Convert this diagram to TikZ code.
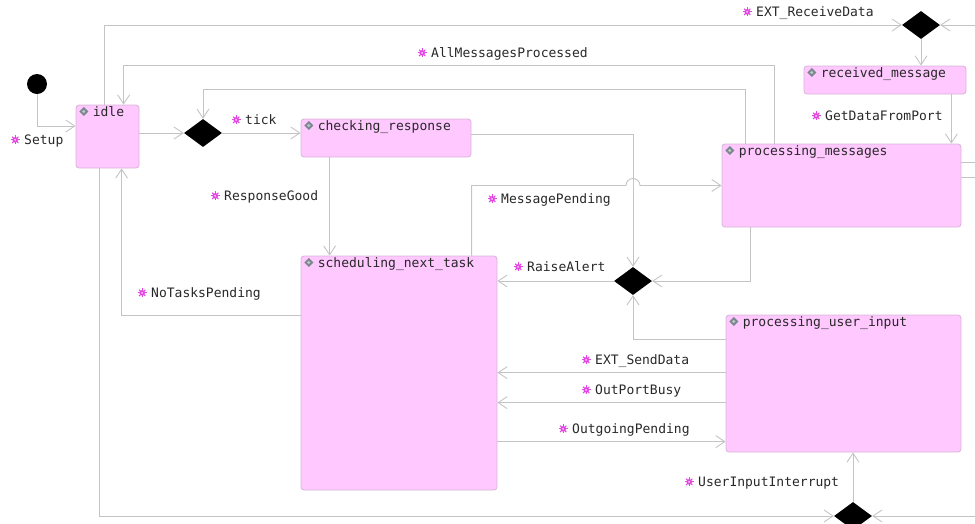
\documentclass[tikz,border=0pt]{standalone}
\usepackage{fontspec}
\newfontfamily\umlfont{DejaVu Sans Mono}
\usetikzlibrary{shapes.geometric, arrows.meta, positioning, calc}
\definecolor{statepink}{RGB}{255, 200, 255}
\definecolor{stateedge}{RGB}{214, 180, 214}
\definecolor{wiregray}{RGB}{196, 196, 196}
\definecolor{evmagenta}{RGB}{226, 70, 226}
\definecolor{icongray}{RGB}{120, 136, 140}
\definecolor{labelink}{RGB}{40, 40, 40}

% small icons in front of state names and transition labels
\newcommand{\evicon}{\tikz[baseline=-0.65ex]{\path[use as bounding box] (-4pt,-4pt) rectangle (4pt,4pt);
  \foreach \a in {0,45,...,315} \draw[evmagenta, line width=1pt] (\a:2pt) -- (\a:4.4pt);
  \fill[evmagenta] (0pt,0pt) circle (2.8pt);
  \fill[white!65!evmagenta] (0pt,0pt) circle (1.1pt);}}
\newcommand{\sticon}{\tikz[baseline=-0.65ex]{\path[use as bounding box] (-4pt,-4pt) rectangle (4pt,4pt);
  \fill[icongray] (0pt,4.5pt) -- (4.5pt,0pt) -- (0pt,-4.5pt) -- (-4.5pt,0pt) -- cycle;
  \fill[white!55!icongray] (0pt,1.6pt) -- (1.6pt,0pt) -- (0pt,-1.6pt) -- (-1.6pt,0pt) -- cycle;}}

\begin{document}
\begin{tikzpicture}[x=1pt, y=-1pt,
  state/.style={draw=stateedge, fill=statepink, rounded corners=3pt, inner sep=0pt, line width=0.8pt},
  stitle/.style={anchor=west, inner sep=0pt, text height=10pt, text depth=3pt, text=labelink, font=\umlfont\fontsize{13}{15}\selectfont},
  evlabel/.style={stitle},
  choice/.style={diamond, fill=black, inner sep=0pt, minimum width=38pt, minimum height=28pt},
  tr/.style={draw=wiregray, line width=0.9pt, -{Straight Barb[length=9pt, width=12pt]}},
  wire/.style={draw=wiregray, line width=0.9pt}]

\useasboundingbox (0,0) rectangle (975,523);

% states and pseudo states
\node[circle, fill=black, minimum size=20pt, inner sep=0pt] (init) at (37,84) {};
\node[state, minimum width=63pt, minimum height=63pt] (idle) at (107.5,136.5) {};
\node[choice] (d1) at (203,133) {};
\node[state, minimum width=170pt, minimum height=38pt] (chk) at (386,138) {};
\node[state, minimum width=196pt, minimum height=234pt] (sched) at (399,373) {};
\node[choice] (d2) at (633,281) {};
\node[choice] (dtop) at (921,25) {};
\node[state, minimum width=162pt, minimum height=28pt] (rcv) at (885,80) {};
\node[state, minimum width=239pt, minimum height=83pt] (pm) at (841.5,185.5) {};
\node[state, minimum width=235pt, minimum height=137pt] (pui) at (843.5,383.5) {};
\node[choice] (dbot) at (853,516) {};

\node[stitle] (idle-t) at ([xshift=4pt, yshift=-8pt]idle.north west) {\sticon\hspace{5pt}idle};
\node[stitle] (chk-t) at ([xshift=4pt, yshift=-8pt]chk.north west) {\sticon\hspace{5pt}checking\_response};
\node[stitle] (sched-t) at ([xshift=4pt, yshift=-8pt]sched.north west) {\sticon\hspace{5pt}scheduling\_next\_task};
\node[stitle] (rcv-t) at ([xshift=4pt, yshift=-8pt]rcv.north west) {\sticon\hspace{5pt}received\_message};
\node[stitle] (pm-t) at ([xshift=4pt, yshift=-8pt]pm.north west) {\sticon\hspace{5pt}processing\_messages};
\node[stitle] (pui-t) at ([xshift=4pt, yshift=-8pt]pui.north west) {\sticon\hspace{5pt}processing\_user\_input};

% helper points
\coordinate (recv-in) at (975,25);
\coordinate (intr-in) at (975,516);
\coordinate (gd) at ([xshift=-15pt]rcv.south east);
\coordinate (hop) at (d2.north |- pm.west);
\coordinate (sd) at ([yshift=-58pt]pui.north west);
\coordinate (ob) at ([yshift=-88pt]pui.north west);
\coordinate (og) at ([yshift=-127pt]pui.north west);
\coordinate (pm-o1) at ([yshift=-19pt]pm.north east);
\coordinate (pm-o2) at ([yshift=-34pt]pm.north east);

% transitions
\draw[tr] (init) |- ([yshift=10.5pt]idle.west);
\draw[tr] (idle.east |- d1.west) -- (d1.west);
\draw[tr] (d1.east) -- (chk.west |- d1.east);
\draw[tr] ([xshift=29pt]chk.south west) -- ([xshift=29pt]sched.north west);
\draw[tr] ([yshift=-60pt]sched.north west) -| ([xshift=46pt]idle.south west);
\draw[tr] ([xshift=29pt]idle.north west) |- (dtop.west);
\draw[tr] (recv-in) -- (dtop.east);
\draw[tr] (dtop.south) -- (dtop.south |- rcv.north);
\draw[tr] (gd) -- (gd |- pm.north);
\draw[tr] ([xshift=53pt]pm.north west) -- ++(0,-78) -| ([xshift=48pt]idle.north west);
\draw[tr] ([xshift=24pt]pm.north west) -- ++(0,-54) -| (d1.north);
\draw[tr] ([yshift=4pt]chk.east) -| (d2.north);
\draw[tr] ([xshift=171pt]sched.north west) |- ([xshift=-7pt]hop) arc[start angle=180, end angle=0, radius=7pt] -- (pm.west);
\draw[tr] (d2.west) -- (d2.west -| sched.east);
\draw[tr] ([xshift=29pt]pm.south west) |- (d2.east);
\draw[tr] ([yshift=-25pt]pui.north west) -| (d2.south);
\draw[tr] (sd) -- (sd -| sched.east);
\draw[tr] (ob) -- (ob -| sched.east);
\draw[tr] (og -| sched.east) -- (og);
\draw[tr] (dbot.north) -- (dbot.north |- pui.south);
\draw[tr] ([xshift=24pt]idle.south west) |- (dbot.west);
\draw[tr] (intr-in) -- (dbot.east);
\draw[wire] (pm-o1) -- (pm-o1 -| recv-in);
\draw[wire] (pm-o2) -- (pm-o2 -| recv-in);

% transition labels
\node[evlabel] (l-setup) at (11,141) {\evicon\hspace{5pt}Setup};
\node[evlabel] (l-tick) at (232,121) {\evicon\hspace{5pt}tick};
\node[evlabel] (l-good) at (211,197) {\evicon\hspace{5pt}ResponseGood};
\node[evlabel] (l-notask) at (138,294) {\evicon\hspace{5pt}NoTasksPending};
\node[evlabel] (l-allmsg) at (418,54) {\evicon\hspace{5pt}AllMessagesProcessed};
\node[evlabel] (l-recv) at (743,13) {\evicon\hspace{5pt}EXT\_ReceiveData};
\node[evlabel] (l-port) at (812,117) {\evicon\hspace{5pt}GetDataFromPort};
\node[evlabel] (l-msgpend) at (488,200) {\evicon\hspace{5pt}MessagePending};
\node[evlabel] (l-alert) at (514,268) {\evicon\hspace{5pt}RaiseAlert};
\node[evlabel] (l-send) at (582,361) {\evicon\hspace{5pt}EXT\_SendData};
\node[evlabel] (l-busy) at (582,391) {\evicon\hspace{5pt}OutPortBusy};
\node[evlabel] (l-outgo) at (559,430) {\evicon\hspace{5pt}OutgoingPending};
\node[evlabel] (l-intr) at (685,483) {\evicon\hspace{5pt}UserInputInterrupt};
\end{tikzpicture}
\end{document}
